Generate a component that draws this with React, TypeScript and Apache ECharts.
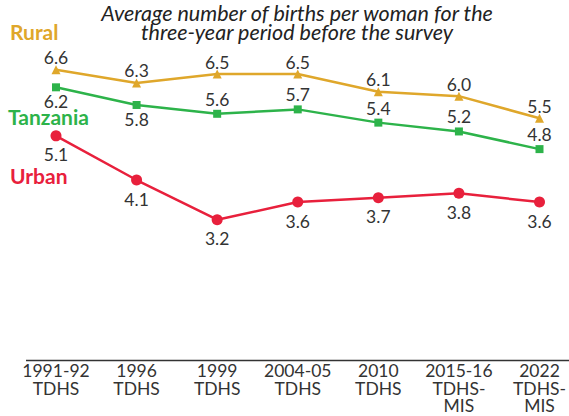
import React, { useEffect, useRef } from "react";
import * as echarts from "echarts";

const categories = [
  "1991-92\nTDHS",
  "1996\nTDHS",
  "1999\nTDHS",
  "2004-05\nTDHS",
  "2010\nTDHS",
  "2015-16\nTDHS-\nMIS",
  "2022\nTDHS-\nMIS",
];
const rural = [6.6, 6.3, 6.5, 6.5, 6.1, 6.0, 5.5];
const tanzania = [6.2, 5.8, 5.6, 5.7, 5.4, 5.2, 4.8];
const urban = [5.1, 4.1, 3.2, 3.6, 3.7, 3.8, 3.6];
// label placement for Tanzania series: below for first two, above afterwards
const tanzaniaLabelPos = ["bottom", "bottom", "top", "top", "top", "top", "top"];

const subtitle = "Average number of births per woman for the\nthree-year period before the survey";

const GOLD = "#DFA72B";
const GREEN = "#2DB34A";
const RED = "#E8203C";
const FONT = "Lato, 'Open Sans', sans-serif";

export default function App() {
  const ref = useRef<HTMLDivElement>(null);
  useEffect(() => {
    if (!ref.current) return;
    const chart = echarts.init(ref.current, undefined, { renderer: "svg" });
    const labelStyle = { fontFamily: FONT, fontSize: 17.5, lineHeight: 13, color: "#333" };
    const nameStyle = { fontFamily: FONT, fontWeight: "bold", fontSize: 21, lineHeight: 16, verticalAlign: "top" };
    chart.setOption({
      animation: false,
      grid: { left: 56, right: 28, top: 52, bottom: 55, containLabel: false },
      xAxis: {
        type: "category",
        data: categories,
        boundaryGap: false,
        axisLine: { show: false },
        axisTick: { show: false },
        splitLine: { show: false },
        axisLabel: {
          interval: 0,
          margin: 1,
          fontFamily: FONT,
          fontSize: 17.5,
          lineHeight: 17.5,
          color: "#333",
          verticalAlign: "top",
        },
      },
      yAxis: {
        type: "value",
        min: 0,
        max: 7,
        show: false,
        splitLine: { show: false },
      },
      series: [
        {
          name: "Rural",
          type: "line",
          data: rural,
          symbol: "triangle",
          symbolSize: 9,
          lineStyle: { color: GOLD, width: 2.5 },
          itemStyle: { color: GOLD },
          label: { show: true, position: "top", distance: 1, ...labelStyle, formatter: (p: any) => p.value.toFixed(1) },
        },
        {
          name: "Tanzania",
          type: "line",
          data: tanzania.map((v, i) => ({
            value: v,
            label: { position: tanzaniaLabelPos[i] },
          })),
          symbol: "rect",
          symbolSize: 8,
          lineStyle: { color: GREEN, width: 2.5 },
          itemStyle: { color: GREEN },
          label: { show: true, distance: 4, ...labelStyle, formatter: (p: any) => Number(p.value).toFixed(1) },
        },
        {
          name: "Urban",
          type: "line",
          data: urban,
          symbol: "circle",
          symbolSize: 11,
          lineStyle: { color: RED, width: 2.5 },
          itemStyle: { color: RED },
          label: { show: true, position: "bottom", distance: 7, ...labelStyle, formatter: (p: any) => p.value.toFixed(1) },
        },
      ],
      graphic: [
        {
          type: "line",
          shape: { x1: 26, y1: 360.5, x2: 569, y2: 360.5 },
          style: { stroke: "#333", lineWidth: 1.5 },
        },
        {
          type: "text",
          x: 297,
          y: 3,
          style: {
            text: subtitle,
            fontFamily: FONT,
            fontStyle: "italic",
            fontSize: 21.5,
            lineHeight: 19.5,
            fill: "#222",
            align: "center",
            verticalAlign: "top",
          },
        },
        { type: "text", x: 10, y: 23, style: { text: "Rural", fill: GOLD, ...nameStyle } },
        { type: "text", x: 8, y: 108, style: { text: "Tanzania", fill: GREEN, ...nameStyle } },
        { type: "text", x: 10, y: 167, style: { text: "Urban", fill: RED, ...nameStyle } },
      ],
    });
    return () => chart.dispose();
  }, []);
  return <div ref={ref} style={{ width: 569, height: 416, position: "absolute", left: 0, top: 0 }} />;
}
